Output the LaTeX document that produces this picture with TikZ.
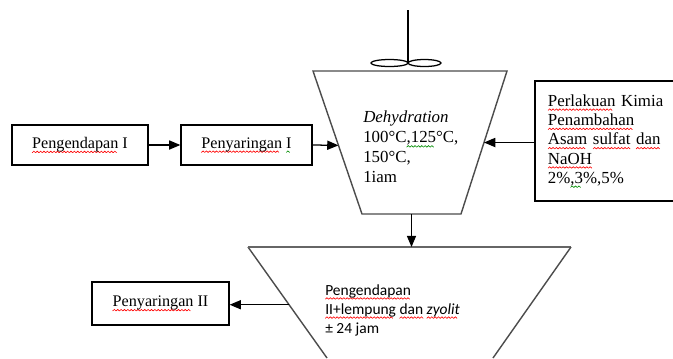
\documentclass[tikz,border=0pt]{standalone}
\usepackage{fontspec}
\setmainfont{Liberation Serif}
\newfontfamily\calfont{Carlito}
\usetikzlibrary{calc,arrows.meta}
\newsavebox\redwave
\newsavebox\greenwave
\newcommand\mkwave[2]{\sbox#1{\pgfpicture
  \pgfsetlinewidth{0.45pt}\pgfsetstrokecolor{#2}%
  \pgfpathmoveto{\pgfpoint{0pt}{0pt}}\pgfpathlineto{\pgfpoint{1.2pt}{1.1pt}}\pgfpathlineto{\pgfpoint{2.4pt}{0pt}}%
  \pgfusepath{stroke}%
  \pgfresetboundingbox\pgfpathrectangle{\pgfpointorigin}{\pgfpoint{2.4pt}{1.1pt}}\pgfusepath{use as bounding box}%
  \endpgfpicture}}
\AtBeginDocument{\mkwave\redwave{red}\mkwave\greenwave{green!55!black}}
\newcommand\spl[1]{\leavevmode\setbox0\hbox{#1}\rlap{\raisebox{-3pt}{\leaders\copy\redwave\hskip\wd0}}\box0\relax}
\newcommand\gsp[1]{\leavevmode\setbox0\hbox{#1}\rlap{\raisebox{-3pt}{\leaders\copy\greenwave\hskip\wd0}}\box0\relax}
\tikzset{box/.style={draw,line width=0.9pt,inner sep=0pt,minimum height=1cm,font=\fontsize{11.5}{14}\selectfont}}
\tikzset{arr/.style={line width=0.9pt,-{Triangle[length=8pt,width=6.5pt]}}}
\tikzset{tz/.style={draw=black!70,line width=1pt}}
\tikzset{txt/.style={anchor=north west,align=left,inner sep=0pt,font=\fontsize{12}{14.2}\selectfont}}

\begin{document}
\begin{tikzpicture}[x=0.025cm,y=-0.025cm]
\useasboundingbox (0,0) rectangle (673,358);
% tangki dehidrasi
\coordinate (tA) at (313,71); \coordinate (tB) at (507,71);
\coordinate (tC) at (461,214); \coordinate (tD) at (362,214);
\draw[tz] (tA)--(tB)--(tC)--(tD)--cycle;
\coordinate (as) at (408,10); \coordinate (ab) at (408,63);
\draw[line width=0.9pt] (as)--(ab);
\draw[line width=0.9pt] (ab) ++(-18.5,0) ellipse [x radius=18.5,y radius=3.5];
\draw[line width=0.9pt] (ab) ++(16.5,0) ellipse [x radius=16.5,y radius=3.5];
\node[txt] (dehy) at (363,111) {\textit{Dehydration}\\100°C\gsp{,125}°C,\\150°C,\\1iam};
% tangki pengendapan
\coordinate (bA) at (248,247); \coordinate (bB) at (571,247);
\coordinate (bC) at (327,358); \coordinate (bD) at (493,358);
\draw[draw=black!70,line width=1pt] (bC)--(bA);
\draw[draw=black!60,line width=1.6pt] (bA)--(bB);
\draw[draw=black!70,line width=1pt] (bB)--(bD);
\node[txt,font=\calfont\fontsize{11}{13.6}\selectfont] (endap) at (325,284) {\spl{Pengendapan}\\\spl{II+lempung} \spl{dan} \spl{\textit{zyolit}}\\± 24 jam};
% kotak
\node[box,minimum width=3.4cm] (peng1) at (80,145) {\spl{Pengendapan} I};
\node[box,minimum width=3.275cm] (pny1) at (246.5,145) {\spl{Penyaringan} \gsp{I}};
\node[box,minimum width=3.425cm,minimum height=1.075cm] (pny2) at (160.5,303.5) {\spl{Penyaringan} II};
\node[box,minimum height=3cm,text width=3.225cm,inner xsep=0.325cm,align=left,font=\fontsize{12}{13.7}\selectfont] (kimia) at (612.5,141) {\spl{Perlakuan} Kimia\\\spl{Penambahan}\\\spl{Asam} \spl{sulfat} \spl{dan}\\\spl{NaOH}\\2\%\gsp{,3}\%,5\%};
% panah
\coordinate (lin) at ($(tA)!0.52!(tD)$);
\coordinate (rin) at ($(tB)!0.5!(tC)$);
\coordinate (bot) at ($(tD)!0.5!(tC)$);
\coordinate (lout) at ($(bA)!0.52!(bC)$);
\draw[arr] (peng1.east) -- (pny1.west);
\draw[arr] (pny1.east) -- (lin);
\draw[arr] (kimia.west |- rin) -- (rin);
\draw[arr] (bot) -- (bot |- bA);
\draw[arr] (lout) -- (pny2.east |- lout);
\end{tikzpicture}
\end{document}
